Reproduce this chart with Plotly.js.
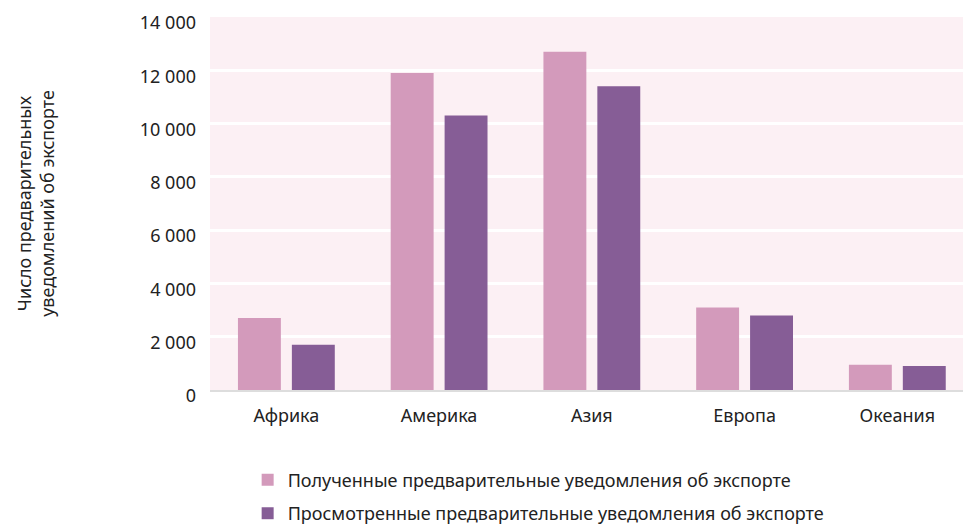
<!DOCTYPE html>
<html><head><meta charset="utf-8">
<script src="https://cdn.plot.ly/plotly-3.0.1.min.js"></script>
<style>html,body{margin:0;padding:0;background:#fff}</style>
</head><body><div id="chart" style="width:963px;height:527px"></div>
<script>
const regions = ["Африка", "Америка", "Азия", "Европа", "Океания"];
const received = [2700, 11900, 12700, 3100, 950];
const reviewed = [1700, 10300, 11400, 2800, 900];
const seriesNames = ["Полученные предварительные уведомления об экспорте", "Просмотренные предварительные уведомления об экспорте"];
const yTicks = [0, 2000, 4000, 6000, 8000, 10000, 12000, 14000];
const yTitle = "Число предварительных<br>уведомлений об экспорте";

const font = "Noto Sans, sans-serif";
const data = [
  {type: "bar", x: regions, y: received, name: seriesNames[0], legendgroup: "a", marker: {color: "#d39abb"}, hoverinfo: "none"},
  {type: "bar", x: regions, y: reviewed, name: seriesNames[1], legendgroup: "b", marker: {color: "#865d96"}, hoverinfo: "none"}
];
const layout = {
  width: 963, height: 527,
  margin: {l: 210, r: 0, t: 17, b: 137, autoexpand: false},
  paper_bgcolor: "#ffffff",
  plot_bgcolor: "#fcf0f4",
  separators: ". ",
  font: {family: font, size: 18, color: "#222"},
  barmode: "group",
  bargap: 0.294,
  bargroupgap: 0.204,
  showlegend: true,
  legend: {orientation: "v", x: 0.05, xanchor: "left", y: -0.192, yanchor: "top",
           font: {family: font, size: 18, color: "#222"}, tracegroupgap: 7, itemwidth: 30},
  xaxis: {range: [-0.5, 4.43], showgrid: false, zeroline: false, showline: true, linecolor: "#dddddd", linewidth: 2,
          ticks: "", tickfont: {family: font, size: 18, color: "#222"}, ticklabelstandoff: 8, fixedrange: true},
  yaxis: {range: [0, 14000], tickvals: yTicks, tickformat: ",d", showgrid: true, gridcolor: "#ffffff", gridwidth: 3,
          zeroline: false, showline: false, ticks: "", ticklabelstandoff: 13, ticklabelshift: 6,
          tickfont: {family: font, size: 18, color: "#222"},
          title: {text: yTitle, font: {family: font, size: 18, color: "#222"}, standoff: 80}, fixedrange: true}
};
Plotly.newPlot("chart", data, layout, {displayModeBar: false, staticPlot: true});
</script></body></html>
